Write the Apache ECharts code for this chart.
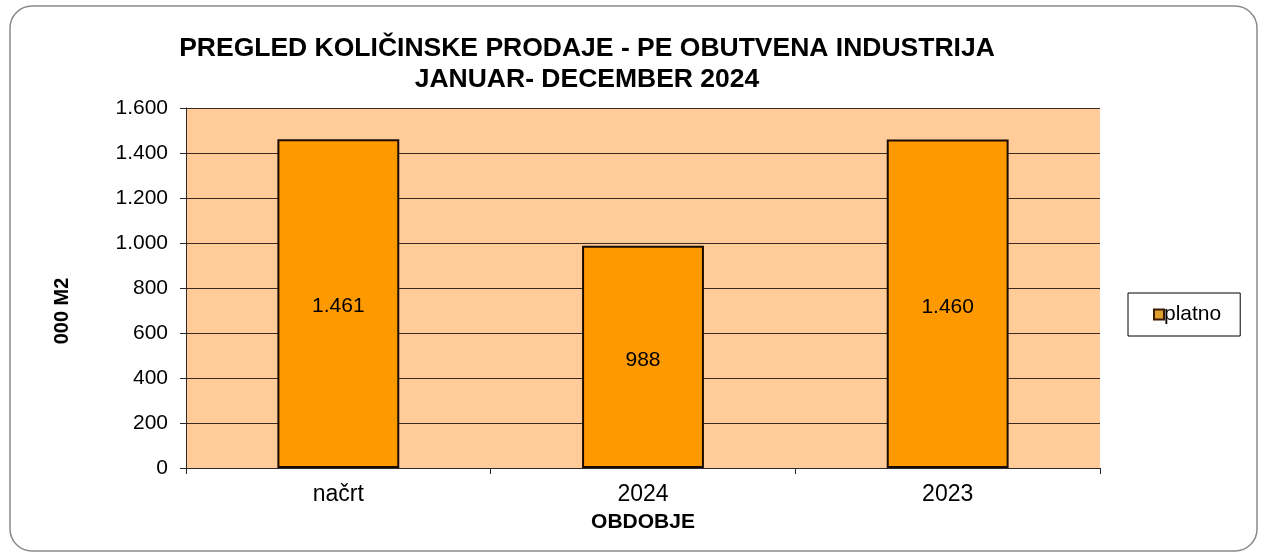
<!DOCTYPE html>
<html>
<head>
<meta charset="utf-8">
<script src="https://cdn.jsdelivr.net/npm/echarts@6/dist/echarts.min.js"></script>
<style>
html,body{margin:0;padding:0;background:#fff;}
#c{width:1262px;height:555px;}
</style>
</head>
<body>
<div id="c"></div>
<script>
var categories = ['načrt', '2024', '2023'];
var platno = [1461, 988, 1460];
var seriesName = 'platno';
var titleLines = ['PREGLED KOLIČINSKE PRODAJE - PE OBUTVENA INDUSTRIJA', 'JANUAR- DECEMBER 2024'];
var yAxisTitle = '000 M2';
var xAxisTitle = 'OBDOBJE';

function fmt(v) {
  var s = String(Math.round(v));
  return s.replace(/\B(?=(\d{3})+(?!\d))/g, '.');
}

var FONT = 'Liberation Sans, Arial, sans-serif';
var chart = echarts.init(document.getElementById('c'));
chart.setOption({
  backgroundColor: '#fff',
  animation: false,
  textStyle: { fontFamily: FONT },
  title: {
    text: titleLines.join('\n'),
    left: 582,
    top: 28,
    textAlign: 'center',
    textStyle: { fontFamily: FONT, fontSize: 26.5, fontWeight: 'bold', color: '#000', lineHeight: 31 }
  },
  graphic: [
    {
      type: 'rect', z: -10, silent: true,
      shape: { x: 10, y: 6, width: 1247, height: 545, r: 22 },
      style: { fill: 'none', stroke: '#8a8a8a', lineWidth: 1.5 }
    },
    {
      type: 'text', x: 62, y: 311, rotation: Math.PI / 2,
      style: { text: yAxisTitle, font: 'bold 20px ' + FONT, fill: '#000', align: 'center', verticalAlign: 'middle' }
    }
  ],
  legend: {
    left: 1128, top: 293,
    orient: 'vertical',
    padding: [11, 19, 11, 25],
    borderColor: '#000', borderWidth: 1,
    itemWidth: 10, itemHeight: 10, itemGap: 4,
    icon: 'rect',
    textStyle: { fontFamily: FONT, fontSize: 21, color: '#000', padding: [0, 0, 0, -5] },
    data: [{ name: seriesName, itemStyle: { color: '#E0A030', borderColor: '#3a1a00', borderWidth: 2 } }]
  },
  grid: { left: 186, right: 162, top: 108, bottom: 87, containLabel: false,
          show: true, backgroundColor: '#FFCC99', borderWidth: 0 },
  xAxis: {
    type: 'category',
    data: categories,
    name: xAxisTitle,
    nameLocation: 'middle',
    nameGap: 44,
    nameTextStyle: { fontFamily: FONT, fontSize: 21, fontWeight: 'bold', color: '#000' },
    axisLine: { lineStyle: { color: '#2a2a2a', width: 1 } },
    axisTick: { show: true, length: 6, alignWithLabel: false, lineStyle: { color: '#2a2a2a' } },
    axisLabel: { fontFamily: FONT, fontSize: 23, color: '#000', margin: 15 },
    splitLine: { show: false }
  },
  yAxis: {
    type: 'value',
    min: 0, max: 1600, interval: 200,
    axisLine: { show: true, lineStyle: { color: '#2a2a2a', width: 1 } },
    axisTick: { show: true, length: 6, lineStyle: { color: '#2a2a2a' } },
    axisLabel: { fontFamily: FONT, fontSize: 21, color: '#000', margin: 18, formatter: fmt },
    splitLine: { show: true, lineStyle: { color: '#3a2a22', width: 1 } }
  },
  series: [{
    name: seriesName,
    type: 'bar',
    data: platno,
    barCategoryGap: '60%',
    itemStyle: { color: '#FF9900', borderColor: '#1a0a00', borderWidth: 2 },
    label: {
      show: true, position: 'inside',
      fontFamily: FONT, fontSize: 21, color: '#000',
      offset: [0, 3],
      formatter: function (p) { return fmt(p.value); }
    }
  }]
});
</script>
</body>
</html>
